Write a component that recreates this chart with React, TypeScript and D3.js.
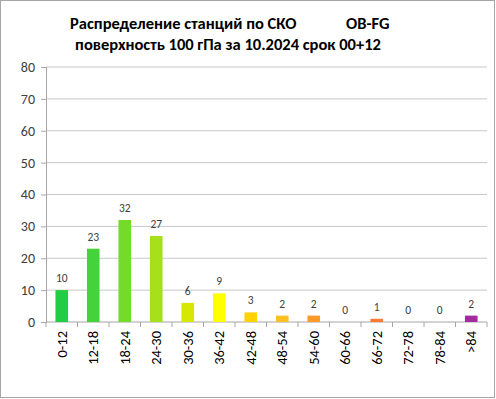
import React, { useRef, useEffect } from 'react';
import * as d3 from 'd3';

const categories = ['0-12', '12-18', '18-24', '24-30', '30-36', '36-42', '42-48', '48-54', '54-60', '60-66', '66-72', '72-78', '78-84', '>84'];
const counts = [10, 23, 32, 27, 6, 9, 3, 2, 2, 0, 1, 0, 0, 2];
const barColors = ['#22cc44', '#44d43a', '#74dc28', '#a6e01a', '#d6e800', '#ffff00', '#ffd200', '#ffc024', '#ff9a28', '#ff8a2c', '#ff7a30', '#e06060', '#c04080', '#a42aa0'];
const yTicks = [0, 10, 20, 30, 40, 50, 60, 70, 80];

const App = () => {
  const chartRef = useRef<SVGSVGElement>(null);

  useEffect(() => {
    const svg = d3.select(chartRef.current);
    svg.selectAll('*').remove();

    const width = 496;
    const height = 399;
    const margin = { top: 67, right: 9, bottom: 77, left: 46 };
    const font = 'Calibri, Carlito, "Liberation Sans", Arial, sans-serif';

    // рамка
    svg.append('rect')
      .attr('x', 0.5).attr('y', 0.5)
      .attr('width', width - 2).attr('height', height - 2)
      .attr('fill', '#fff').attr('stroke', '#a6a6a6');

    const x = d3.scaleBand()
      .domain(categories)
      .range([margin.left, width - margin.right])
      .paddingInner(0.6)
      .paddingOuter(0.3);

    const y = d3.scaleLinear()
      .domain([0, 80])
      .range([height - margin.bottom, margin.top]);

    // сетка
    svg.append('g')
      .selectAll('line')
      .data(yTicks.slice(1))
      .enter()
      .append('line')
      .attr('x1', margin.left).attr('x2', width - margin.right)
      .attr('y1', d => y(d)).attr('y2', d => y(d))
      .attr('stroke', '#c8c8c8');

    // ось Y
    const yAxis = svg.append('g')
      .attr('transform', `translate(${margin.left},0)`)
      .call(d3.axisLeft(y).tickValues(yTicks).tickSize(5).tickPadding(6));
    yAxis.select('.domain').attr('stroke', '#a6a6a6');
    yAxis.selectAll('.tick line').attr('stroke', '#a6a6a6');
    yAxis.selectAll('.tick text')
      .attr('fill', '#404040').style('font-family', font).style('font-size', '14px');

    // ось X
    const plotW = width - margin.left - margin.right;
    const xAxis = svg.append('g')
      .attr('transform', `translate(0,${y(0)})`);
    xAxis.append('line')
      .attr('x1', margin.left).attr('x2', width - margin.right)
      .attr('stroke', '#a6a6a6');
    xAxis.selectAll('line.tk')
      .data(d3.range(categories.length + 1))
      .enter()
      .append('line')
      .attr('class', 'tk')
      .attr('x1', i => margin.left + i * plotW / categories.length)
      .attr('x2', i => margin.left + i * plotW / categories.length)
      .attr('y1', 0).attr('y2', 5)
      .attr('stroke', '#a6a6a6');
    xAxis.selectAll('text')
      .data(categories)
      .enter()
      .append('text')
      .attr('transform', d => `translate(${(x(d) as number) + x.bandwidth() / 2 + 5},9) rotate(-90)`)
      .attr('text-anchor', 'end')
      .attr('fill', '#000')
      .style('font-family', font)
      .style('font-size', '14.5px')
      .text(d => d);

    // бары
    svg.append('g')
      .selectAll('rect')
      .data(counts)
      .enter()
      .append('rect')
      .attr('x', (d, i) => x(categories[i]) as number)
      .attr('y', d => y(d))
      .attr('width', x.bandwidth())
      .attr('height', d => y(0) - y(d))
      .attr('fill', (d, i) => barColors[i]);

    // подписи
    svg.append('g')
      .selectAll('text')
      .data(counts)
      .enter()
      .append('text')
      .attr('x', (d, i) => (x(categories[i]) as number) + x.bandwidth() / 2)
      .attr('y', d => y(d) - 8)
      .attr('text-anchor', 'middle')
      .attr('fill', '#404040')
      .style('font-family', font)
      .style('font-size', '11.5px')
      .text(d => d);

    // заголовок
    const title = svg.append('g')
      .style('font-family', font)
      .style('font-size', '16.5px')
      .style('font-weight', 'bold')
      .style('white-space', 'pre')
      .attr('fill', '#000');
    title.append('text').attr('x', 70).attr('y', 29).text('Распределение станций по СКО');
    title.append('text').attr('x', 346).attr('y', 29).text('OB-FG');
    title.append('text').attr('x', 228).attr('y', 50).attr('text-anchor', 'middle')
      .text('поверхность  100 гПа за 10.2024 срок 00+12');
  }, []);

  return (
    <svg
      ref={chartRef}
      width={496}
      height={399}
      style={{ position: 'absolute', left: 0, top: 0 }}
    />
  );
};

export default App;
